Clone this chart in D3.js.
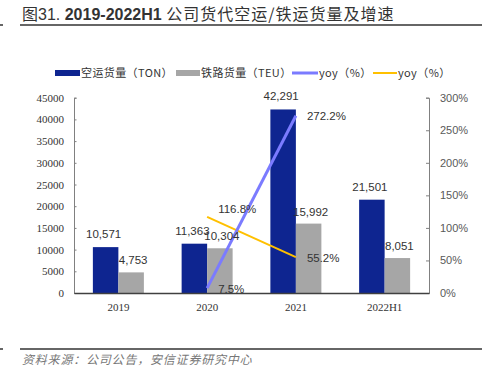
<!DOCTYPE html>
<html><head><meta charset="utf-8">
<script src="https://cdn.jsdelivr.net/npm/d3@7/dist/d3.min.js"></script>
<style>html,body{margin:0;padding:0;background:#fff;}svg{display:block;}</style>
</head><body><svg id="c" width="482" height="383"></svg>
<script>
const categories = ["2019", "2020", "2021", "2022H1"];
const airVolume = [10571, 11363, 42291, 21501];
const railVolume = [4753, 10304, 15992, 8051];
const airYoy = [null, 7.5, 272.2, null];
const railYoy = [null, 116.8, 55.2, null];
const leftTicks = [0, 5000, 10000, 15000, 20000, 25000, 30000, 35000, 40000, 45000];
const rightTicks = [0, 50, 100, 150, 200, 250, 300];
const legendLabels = ["空运货量（TON）", "铁路货量（TEU）", "yoy（%）", "yoy（%）"];

const svg = d3.select("#c");
const sans = "'Liberation Sans', Arial, 'Noto Sans CJK SC', sans-serif";
const cjk = "'Noto Sans CJK SC', 'Liberation Sans', sans-serif";
const serif = "'Liberation Serif', 'Times New Roman', serif";
const navy = "#0E2590", grey = "#A6A6A6", lblue = "#7B7BFF", orange = "#FFC000";

// Title
const title = svg.append("text").attr("x", 22).attr("y", 20).attr("fill", "#333")
  .style("font-family", sans).style("font-size", "16px");
title.append("tspan").style("font-family", cjk).text("图");
title.append("tspan").text("31. ");
title.append("tspan").attr("font-weight", "bold").text("2019-2022H1 ");
title.append("tspan").style("font-family", cjk).attr("letter-spacing", "1px").text("公司货代空运/铁运货量及增速");
svg.append("line").attr("x1", 20).attr("x2", 482).attr("y1", 25).attr("y2", 25).attr("stroke", "#333").attr("stroke-width", 1.5);
svg.append("line").attr("x1", 0).attr("x2", 3).attr("y1", 25).attr("y2", 25).attr("stroke", "#333").attr("stroke-width", 1.5);

// Scales
const L = 74, R = 429, T = 97.7, B = 293;
const x = d3.scaleBand().domain(categories).range([L, R]);
const yL = d3.scaleLinear().domain([0, 45000]).range([B, T]);
const yR = d3.scaleLinear().domain([0, 300]).range([B, T]);
const barW = 25.5;

// Axes
const gl = svg.append("g").attr("transform", `translate(${L},0)`)
  .call(d3.axisLeft(yL).tickValues(leftTicks).tickSize(-2.5).tickPadding(10).tickFormat(d3.format("d")));
gl.select(".domain").attr("stroke", "#808080");
gl.selectAll(".tick line").attr("stroke", "#808080");
gl.selectAll(".tick text").style("font-family", serif).style("font-size", "11px").attr("fill", "#333");

const gr = svg.append("g").attr("transform", `translate(${R},0)`)
  .call(d3.axisRight(yR).tickValues(rightTicks).tickSize(-3).tickPadding(11).tickFormat(d => d + "%"));
gr.select(".domain").attr("stroke", "#808080");
gr.selectAll(".tick line").attr("stroke", "#808080");
gr.selectAll(".tick text").style("font-family", sans).style("font-size", "11px").attr("fill", "#595959");

// Bars
const g = svg.append("g");
categories.forEach((c, i) => {
  const cx = x(c) + x.bandwidth() / 2;
  g.append("rect").attr("x", cx - barW).attr("y", yL(airVolume[i])).attr("width", barW)
    .attr("height", B - yL(airVolume[i])).attr("fill", navy);
  g.append("rect").attr("x", cx).attr("y", yL(railVolume[i])).attr("width", barW)
    .attr("height", B - yL(railVolume[i])).attr("fill", grey);
});

// Bottom axis
const gb = svg.append("g").attr("transform", `translate(0,${B})`)
  .call(d3.axisBottom(x).tickSize(0).tickPadding(10));
gb.select(".domain").attr("stroke", "#404040").attr("stroke-width", 1.5);
gb.selectAll(".tick text").style("font-family", serif).style("font-size", "11px").attr("fill", "#333");

// Lines
const line = d3.line().defined(d => d.v != null).x(d => x(d.c) + x.bandwidth() / 2).y(d => yR(d.v));
const airPts = categories.map((c, i) => ({ c, v: airYoy[i] }));
const railPts = categories.map((c, i) => ({ c, v: railYoy[i] }));
svg.append("path").datum(railPts).attr("d", line).attr("fill", "none").attr("stroke", orange).attr("stroke-width", 2);
svg.append("path").datum(airPts).attr("d", line).attr("fill", "none").attr("stroke", lblue).attr("stroke-width", 3);

// Bar labels
const fmt = d3.format(",");
const lab = svg.append("g").style("font-family", sans).style("font-size", "11.5px").attr("fill", "#333").attr("text-anchor", "middle");
categories.forEach((c, i) => {
  const cx = x(c) + x.bandwidth() / 2;
  lab.append("text").attr("x", cx - barW / 2 - 2).attr("y", yL(airVolume[i]) - 9).text(fmt(airVolume[i]));
  lab.append("text").attr("x", cx + barW / 2 + 2).attr("y", yL(railVolume[i]) - 8).text(fmt(railVolume[i]));
});

// Line labels
const llab = svg.append("g").style("font-family", sans).style("font-size", "11.5px").attr("fill", "#333");
[[airPts, 0], [railPts, 1]].forEach(([pts, s]) => {
  pts.forEach((p, i) => {
    if (p.v == null) return;
    const up = (s === 1 && i === 1) ? -8 : 0;
    llab.append("text").attr("x", x(p.c) + x.bandwidth() / 2 + 11).attr("y", yR(p.v) + 4.5 + up)
      .text(p.v.toFixed(1) + "%");
  });
});

// Legend
const lg = svg.append("g").style("font-family", cjk).style("font-size", "11px").attr("fill", "#333").attr("letter-spacing", "0.4px");
const ly = 73;
lg.append("rect").attr("x", 55).attr("y", ly - 3).attr("width", 25).attr("height", 6).attr("fill", navy);
lg.append("text").attr("x", 81).attr("y", ly + 4).text(legendLabels[0]);
lg.append("rect").attr("x", 176).attr("y", ly - 3).attr("width", 24).attr("height", 6).attr("fill", grey);
lg.append("text").attr("x", 201).attr("y", ly + 4).text(legendLabels[1]);
lg.append("line").attr("x1", 292).attr("x2", 318).attr("y1", ly).attr("y2", ly).attr("stroke", lblue).attr("stroke-width", 3);
lg.append("text").attr("x", 319).attr("y", ly + 4).text(legendLabels[2]);
lg.append("line").attr("x1", 373).attr("x2", 397).attr("y1", ly).attr("y2", ly).attr("stroke", orange).attr("stroke-width", 2);
lg.append("text").attr("x", 398).attr("y", ly + 4).text(legendLabels[3]);

// Footer
svg.append("line").attr("x1", 20).attr("x2", 482).attr("y1", 349).attr("y2", 349).attr("stroke", "#333").attr("stroke-width", 1.5);
svg.append("line").attr("x1", 0).attr("x2", 3).attr("y1", 349).attr("y2", 349).attr("stroke", "#333").attr("stroke-width", 1.5);
svg.append("text").attr("x", 22).attr("y", 364).style("font-family", cjk).style("font-size", "12px")
  .style("font-style", "italic").attr("fill", "#777").attr("letter-spacing", "0.8px")
  .text("资料来源：公司公告，安信证券研究中心");
</script></body></html>
